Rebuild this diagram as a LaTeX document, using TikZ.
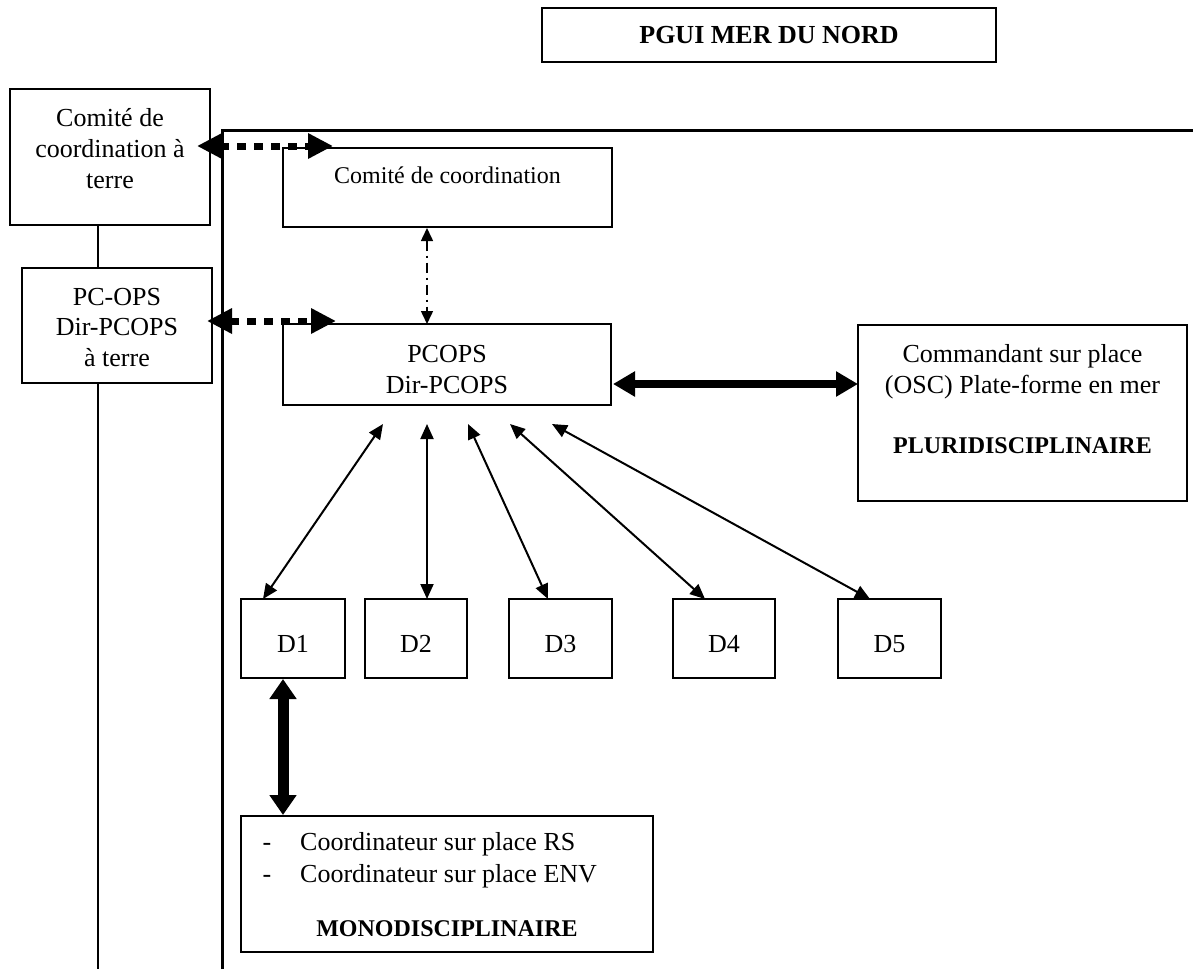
\documentclass[tikz,border=0pt]{standalone}
\usepackage{fontspec}
\setmainfont{Liberation Serif}
\usetikzlibrary{arrows.meta,calc}
\begin{document}
\begin{tikzpicture}[x=1pt,y=-1pt,
  box/.style={draw, line width=1.5pt, inner sep=0pt, outer sep=0pt},
  txt/.style={anchor=base, inner sep=0pt, font=\fontsize{26}{31}\selectfont},
  txtl/.style={anchor=base west, inner sep=0pt, font=\fontsize{26}{31}\selectfont},
  txts/.style={anchor=base, inner sep=0pt, font=\fontsize{24}{29}\selectfont},
  bld/.style={anchor=base, inner sep=0pt, font=\fontsize{24}{29}\selectfont\bfseries},
  bldl/.style={anchor=base, inner sep=0pt, font=\fontsize{26}{31}\selectfont\bfseries},
  thinarrow/.style={line width=2pt, {Triangle[length=15pt,width=13pt]}-{Triangle[length=15pt,width=13pt]}},
  dotarrow/.style={line width=7pt, dash pattern=on 9pt off 8pt, {Triangle[length=25pt,width=24pt]}-{Triangle[length=25pt,width=24pt]}},
  ddarrow/.style={line width=1.5pt, dash pattern=on 10pt off 5pt on 2pt off 5pt, {Triangle[length=13pt,width=12pt]}-{Triangle[length=13pt,width=12pt]}},
  fatarrow/.style={line width=8pt, {Triangle[length=22pt,width=24pt]}-{Triangle[length=22pt,width=24pt]}},
  heavyarrow/.style={line width=11pt, {Triangle[length=20pt,width=26pt]}-{Triangle[length=20pt,width=26pt]}},
  frameline/.style={line width=3pt},
  plainline/.style={line width=1.5pt}
]
\useasboundingbox (0,0) rectangle (1193,969);

% title
\node[box, minimum width=454pt, minimum height=54pt] (pgui) at (769,35) {};
\node[bldl] (pguit) at (769,43) {PGUI MER DU NORD};

% frame
\coordinate (fbl) at (222,969);
\coordinate (ftl) at (222,130);
\coordinate (ftr) at (1193,130);
\draw[frameline] (fbl) -- (ftl) -- (ftr);

% left boxes
\node[box, minimum width=200pt, minimum height=136pt] (ct) at (110,157) {};
\node[txt] (ct1) at (110,126) {Comité de};
\node[txt] (ct2) at (110,157) {coordination à};
\node[txt] (ct3) at (110,188) {terre};

\node[box, minimum width=190pt, minimum height=115pt] (pct) at (117,325.5) {};
\node[txt] (pct1) at (117,305) {PC-OPS};
\node[txt] (pct2) at (117,335) {Dir-PCOPS};
\node[txt] (pct3) at (117,366) {à terre};

\coordinate (lx) at (98,0);
\coordinate (lbot) at (98,969);
\draw[plainline] (ct.south -| lx) -- (pct.north -| lx);
\draw[plainline] (pct.south -| lx) -- (lbot);

% comite de coordination
\node[box, minimum width=329pt, minimum height=79pt] (cc) at (447.5,187.5) {};
\node[txts] (cct) at (447.5,183) {Comité de coordination};

% PCOPS
\node[box, minimum width=328pt, minimum height=81pt] (pcops) at (447,364.5) {};
\node[txt] (pc1) at (447,362) {PCOPS};
\node[txt] (pc2) at (447,393) {Dir-PCOPS};

% OSC
\node[box, minimum width=329pt, minimum height=176pt] (osc) at (1022.5,413) {};
\node[txt] (osc1) at (1022.5,362) {Commandant sur place};
\node[txt] (osc2) at (1022.5,393) {(OSC) Plate-forme en mer};
\node[bld] (osc3) at (1022.5,453) {PLURIDISCIPLINAIRE};

% D boxes
\node[box, minimum width=104pt, minimum height=79pt] (d1) at (293,638.5) {};
\node[box, minimum width=102pt, minimum height=79pt] (d2) at (416,638.5) {};
\node[box, minimum width=103pt, minimum height=79pt] (d3) at (560.5,638.5) {};
\node[box, minimum width=102pt, minimum height=79pt] (d4) at (724,638.5) {};
\node[box, minimum width=103pt, minimum height=79pt] (d5) at (889.5,638.5) {};
\node[txt] (d1t) at (293,652) {D1};
\node[txt] (d2t) at (416,652) {D2};
\node[txt] (d3t) at (560.5,652) {D3};
\node[txt] (d4t) at (724,652) {D4};
\node[txt] (d5t) at (889.5,652) {D5};

% mono box
\node[box, minimum width=412pt, minimum height=136pt] (mono) at (447,884) {};
\node[txt] (m1d) at (267,850) {-};
\node[txtl] (m1) at (300,850) {Coordinateur sur place RS};
\node[txt] (m2d) at (267,882) {-};
\node[txtl] (m2) at (300,882) {Coordinateur sur place ENV};
\node[bld] (m3) at (447,936) {MONODISCIPLINAIRE};

% dotted arrows
\coordinate (dt1) at (197,146);
\coordinate (dt2) at (333,146);
\coordinate (db1) at (207,321);
\coordinate (db2) at (336,321);
\draw[dotarrow] (dt1) -- (dt2);
\draw[dotarrow] (db1) -- (db2);

% dash-dot arrow
\coordinate (dd1) at (427,228);
\coordinate (dd2) at (427,324);
\draw[ddarrow] (dd1) -- (dd2);

% fat arrow to OSC
\coordinate (fa1) at (613,384);
\coordinate (fa2) at (858,384);
\draw[fatarrow] (fa1) -- (fa2);

% thin arrows
\coordinate (u1) at (383,424); \coordinate (l1) at (263,599);
\coordinate (u2) at (427,424); \coordinate (l2) at (427,599);
\coordinate (u3) at (468,424); \coordinate (l3) at (548,599);
\coordinate (u4) at (510,424); \coordinate (l4) at (705,599);
\coordinate (u5) at (552,424); \coordinate (l5) at (870,599);
\draw[thinarrow] (u1) -- (l1);
\draw[thinarrow] (u2) -- (l2);
\draw[thinarrow] (u3) -- (l3);
\draw[thinarrow] (u4) -- (l4);
\draw[thinarrow] (u5) -- (l5);

% heavy arrow D1 - mono
\coordinate (h1) at (283,679);
\coordinate (h2) at (283,815);
\draw[heavyarrow] (h1) -- (h2);
\end{tikzpicture}
\end{document}
